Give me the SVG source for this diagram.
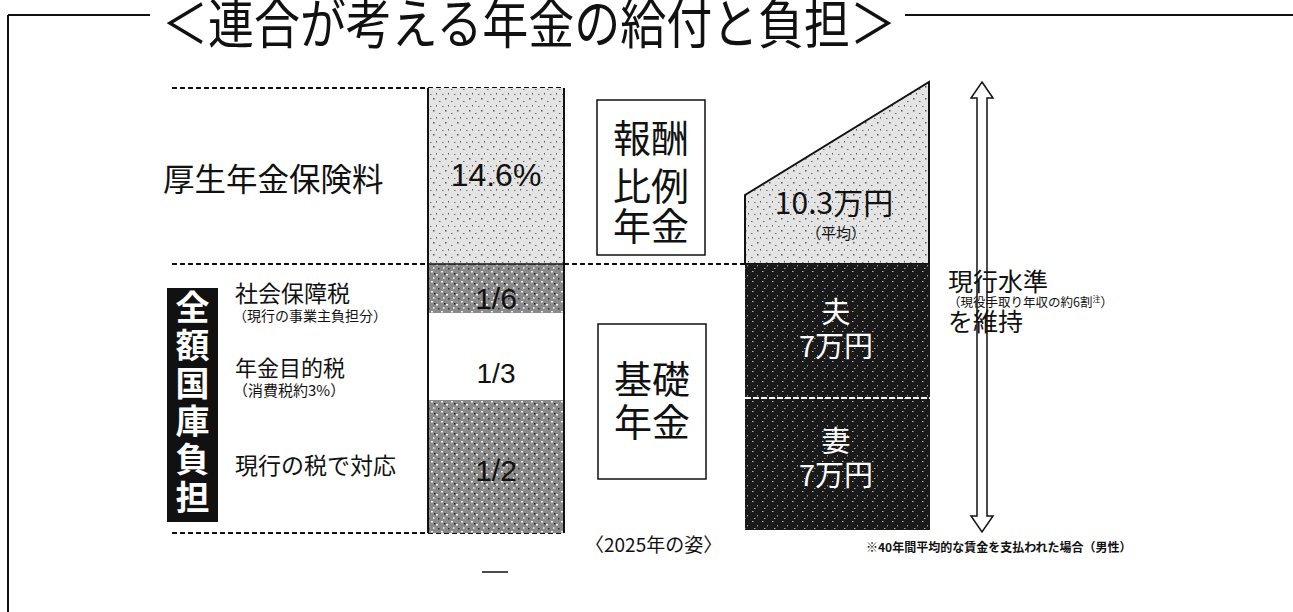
<svg xmlns="http://www.w3.org/2000/svg" width="1293" height="612" viewBox="0 0 1293 612">
<style>
text{font-family:"Noto Sans CJK JP","Liberation Sans",sans-serif;fill:#111}
.lbl{font-size:26px}
.sub{font-size:14px}
.num{font-family:"Liberation Sans","Noto Sans CJK JP",sans-serif;font-size:30px}
.big{font-size:38px}
.dot{stroke:#111;stroke-width:2;stroke-dasharray:5 3;fill:none}
.frame{stroke:#111;stroke-width:2;fill:none}
.box{stroke:#111;stroke-width:1.5;fill:#fff}
</style>
<defs>
<pattern id="light" width="12" height="12" patternUnits="userSpaceOnUse">
<rect width="12" height="12" fill="#e4e4e4"/>
<rect x="1" y="2" width="1.5" height="1.5" fill="#555"/>
<rect x="7" y="5" width="1.5" height="1" fill="#666"/>
<rect x="4" y="9" width="1" height="1.5" fill="#555"/>
<rect x="10" y="10" width="1.5" height="1" fill="#777"/>
</pattern>
<pattern id="mid" width="10" height="10" patternUnits="userSpaceOnUse">
<rect width="10" height="10" fill="#8a8a8a"/>
<rect x="1" y="1" width="2" height="1.5" fill="#eee"/>
<rect x="6" y="4" width="2" height="1.5" fill="#fff"/>
<rect x="3" y="7" width="1.5" height="2" fill="#ddd"/>
<rect x="8" y="8" width="1.5" height="1.5" fill="#333"/>
<rect x="4" y="3" width="1.5" height="1.5" fill="#222"/>
</pattern>
<pattern id="dark" width="10" height="10" patternUnits="userSpaceOnUse">
<rect width="10" height="10" fill="#1a1a1a"/>
<rect x="2" y="1" width="1.5" height="1" fill="#bbb"/>
<rect x="7" y="5" width="1" height="1.5" fill="#999"/>
<rect x="4" y="8" width="1.5" height="1" fill="#aaa"/>
</pattern>
</defs>

<g id="frame">
<line class="frame" x1="8" y1="15" x2="150" y2="15"/>
<line class="frame" x1="905" y1="15" x2="1293" y2="15"/>
<line class="frame" x1="8" y1="15" x2="8" y2="612"/>
<text x="162" y="44" font-size="54" textLength="734" lengthAdjust="spacingAndGlyphs">＜連合が考える年金の給付と負担＞</text>
</g>

<g id="connectors">
<line class="dot" x1="172" y1="88" x2="564" y2="88"/>
<line class="dot" x1="172" y1="264" x2="745" y2="264"/>
<line class="dot" x1="172" y1="533" x2="564" y2="533"/>
</g>

<g id="labels-left">
<text x="163" y="191" style="font-size:31.5px">厚生年金保険料</text>
<text x="235" y="302" style="font-size:23px">社会保障税</text>
<text class="sub" x="233" y="321">（現行の事業主負担分）</text>
<text x="235" y="376" style="font-size:22px">年金目的税</text>
<text x="233" y="396" style="font-size:15px">（消費税約3%）</text>
<text x="235" y="474" style="font-size:23px">現行の税で対応</text>
</g>

<g id="zengaku">
<rect x="167" y="288" width="51" height="234" fill="#111"/>
<text x="192.5" y="320" text-anchor="middle" font-size="34" font-weight="bold" style="fill:#fff">全</text>
<text x="192.5" y="358" text-anchor="middle" font-size="34" font-weight="bold" style="fill:#fff">額</text>
<text x="192.5" y="396" text-anchor="middle" font-size="34" font-weight="bold" style="fill:#fff">国</text>
<text x="192.5" y="434" text-anchor="middle" font-size="34" font-weight="bold" style="fill:#fff">庫</text>
<text x="192.5" y="472" text-anchor="middle" font-size="34" font-weight="bold" style="fill:#fff">負</text>
<text x="192.5" y="510" text-anchor="middle" font-size="34" font-weight="bold" style="fill:#fff">担</text>
</g>

<g id="burden-column">
<rect x="428" y="88" width="136" height="176" fill="url(#light)"/>
<rect x="428" y="264" width="136" height="49" fill="url(#mid)"/>
<rect x="428" y="313" width="136" height="87" fill="#fff"/>
<rect x="428" y="400" width="136" height="133" fill="url(#mid)"/>
<line x1="428" y1="88" x2="428" y2="533" stroke="#111" stroke-width="2"/>
<line x1="564" y1="88" x2="564" y2="533" stroke="#111" stroke-width="2"/>
<line x1="428" y1="264" x2="564" y2="264" stroke="#111" stroke-width="1.5"/>
<text class="num" x="496" y="186" text-anchor="middle" style="font-size:32px">14.6%</text>
<text class="num" x="496" y="309" text-anchor="middle">1/6</text>
<text class="num" x="496" y="383" text-anchor="middle" style="font-size:28px">1/3</text>
<text class="num" x="496" y="481" text-anchor="middle">1/2</text>
</g>

<g id="houshu-box">
<rect class="box" x="597" y="100" width="108" height="155"/>
<text class="big" x="651" y="152" text-anchor="middle">報酬</text>
<text class="big" x="651" y="200" text-anchor="middle">比例</text>
<text class="big" x="651" y="240" text-anchor="middle">年金</text>
</g>

<g id="kiso-box">
<rect class="box" x="598" y="324" width="108" height="155"/>
<text class="big" x="652" y="393" text-anchor="middle">基礎</text>
<text class="big" x="652" y="436" text-anchor="middle">年金</text>
</g>

<g id="benefit-bar">
<polygon points="745,195 929,82 929,264 745,264" fill="url(#light)" stroke="#111" stroke-width="2"/>
<rect x="745" y="264" width="185" height="266" fill="url(#dark)"/>
<line x1="745" y1="398" x2="930" y2="398" stroke="#fff" stroke-width="2" stroke-dasharray="6 2"/>
<text x="834" y="214" text-anchor="middle" font-size="30">10.3万円</text>
<text x="836" y="239" text-anchor="middle" font-size="15">（平均）</text>
<text x="836" y="323" text-anchor="middle" font-size="29" style="fill:#fff">夫</text>
<text x="836" y="357" text-anchor="middle" font-size="29" style="fill:#fff">7万円</text>
<text x="836" y="452" text-anchor="middle" font-size="29" style="fill:#fff">妻</text>
<text x="836" y="486" text-anchor="middle" font-size="29" style="fill:#fff">7万円</text>
</g>

<g id="level-arrow">
<polygon points="982,82 993,98 987,98 987,516 993,516 982,532 971,516 977,516 977,98 971,98" fill="#fff" stroke="#111" stroke-width="1.5"/>
</g>

<g id="level-text">
<text x="948" y="291" font-size="25">現行水準</text>
<text x="948" y="307" font-size="12.5">（現役手取り年収の約6割<tspan font-size="8" dy="-5">注</tspan><tspan dy="5">）</tspan></text>
<text x="948" y="331" font-size="25">を維持</text>
</g>

<g id="notes">
<text x="585" y="552" font-size="19">〈2025年の姿〉</text>
<line x1="482" y1="572" x2="508" y2="572" stroke="#111" stroke-width="1.5"/>
<text x="866" y="552" font-size="12" font-weight="bold">※40年間平均的な賃金を支払われた場合（男性）</text>
</g>
</svg>
